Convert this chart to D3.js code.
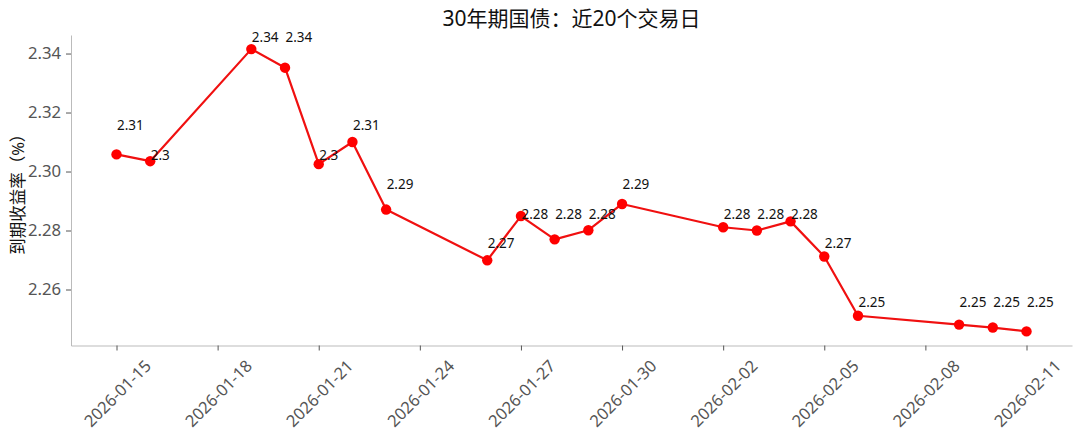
<!DOCTYPE html>
<html>
<head>
<meta charset="utf-8">
<script src="https://cdn.jsdelivr.net/npm/d3@7"></script>
<style>
  html, body { margin: 0; padding: 0; background: #fff; }
  svg { display: block; font-family: "Noto Sans", "Noto Sans CJK SC", sans-serif; }
</style>
</head>
<body>
<svg id="chart" width="1080" height="440"></svg>
<script>
const title = "30年期国债：近20个交易日";
const yLabel = "到期收益率（%）";
const dates = ["2026-01-15","2026-01-16","2026-01-19","2026-01-20","2026-01-21","2026-01-22","2026-01-23",
  "2026-01-26","2026-01-27","2026-01-28","2026-01-29","2026-01-30","2026-02-02","2026-02-03","2026-02-04",
  "2026-02-05","2026-02-06","2026-02-09","2026-02-10","2026-02-11"];
const yields = [2.3058, 2.3035, 2.3415, 2.3352, 2.3025, 2.3100, 2.2871,
  2.2699, 2.2849, 2.2770, 2.2801, 2.2890, 2.2811, 2.2800, 2.2831,
  2.2712, 2.2511, 2.2481, 2.2471, 2.2458];
const xTickLabels = ["2026-01-15","2026-01-18","2026-01-21","2026-01-24","2026-01-27",
  "2026-01-30","2026-02-02","2026-02-05","2026-02-08","2026-02-11"];
const yTickValues = [2.26, 2.28, 2.30, 2.32, 2.34];

(function () {
const FONT = "\"Noto Sans\", \"Noto Sans CJK SC\", sans-serif";
const parse = d3.utcParse("%Y-%m-%d");
const data = dates.map((d, i) => ({ date: parse(d), v: yields[i] }));

const svg = d3.select("#chart");
const mLeft = 71, mRight = 1072, mTop = 35, mBottom = 345.5;

const xExt = d3.extent(data, d => d.date);
const xPad = (xExt[1] - xExt[0]) * 0.05;
const x = d3.scaleUtc()
  .domain([new Date(+xExt[0] - xPad), new Date(+xExt[1] + xPad)])
  .range([mLeft, mRight]);

const yExt = d3.extent(yields);
const yPad = (yExt[1] - yExt[0]) * 0.05;
const y = d3.scaleLinear()
  .domain([yExt[0] - yPad, yExt[1] + yPad])
  .range([mBottom, mTop]);

// Title
svg.append("text")
  .attr("x", (mLeft + mRight) / 2).attr("y", 18)
  .attr("text-anchor", "middle").attr("dominant-baseline", "central")
  .attr("font-size", 21).attr("fill", "#111")
  .text(title);

// Y axis label
svg.append("text")
  .attr("transform", `translate(17, ${(mTop + mBottom) / 2}) rotate(-90)`)
  .attr("text-anchor", "middle").attr("dominant-baseline", "central")
  .attr("font-size", 16.5).attr("fill", "#111")
  .text(yLabel);

// Y axis
const yAxis = svg.append("g").attr("transform", `translate(${mLeft},0)`)
  .call(d3.axisLeft(y).tickValues(yTickValues).tickFormat(d3.format(".2f")).tickSize(5).tickSizeOuter(0).tickPadding(5));
yAxis.select(".domain").attr("stroke", "#bbb").attr("stroke-width", 1);
yAxis.selectAll(".tick line").attr("stroke", "#555");
yAxis.selectAll(".tick text").attr("font-size", 16.7).attr("fill", "#555")
  .attr("font-family", FONT);

// X axis
const xTicks = xTickLabels.map(parse);
const xAxis = svg.append("g").attr("transform", `translate(0,${mBottom})`)
  .call(d3.axisBottom(x).tickValues(xTicks).tickFormat(d3.utcFormat("%Y-%m-%d")).tickSize(5).tickSizeOuter(0));
xAxis.select(".domain").attr("stroke", "#bbb").attr("stroke-width", 1);
xAxis.selectAll(".tick line").attr("stroke", "#555");
xAxis.selectAll(".tick text")
  .attr("font-size", 16.5).attr("fill", "#555")
  .attr("font-family", FONT)
  .attr("text-anchor", "middle").attr("dominant-baseline", "central")
  .attr("x", 0).attr("y", 0).attr("dy", null)
  .attr("transform", "translate(0,47.5) rotate(-45)");

// Line
svg.append("path")
  .datum(data)
  .attr("fill", "none").attr("stroke", "#f01010").attr("stroke-width", 2.2)
  .attr("stroke-linejoin", "round")
  .attr("d", d3.line().x(d => x(d.date)).y(d => y(d.v)));

// Markers
svg.append("g").selectAll("circle").data(data).join("circle")
  .attr("cx", d => x(d.date)).attr("cy", d => y(d.v)).attr("r", 5.2)
  .attr("fill", "#ff0000");

// Value labels
const fmtLabel = v => String(+v.toFixed(2));
svg.append("g").selectAll("text").data(data).join("text")
  .attr("x", d => x(d.date) + 0.5)
  .attr("y", d => y(+d.v.toFixed(2)) - 17)
  .attr("dominant-baseline", "central")
  .attr("font-size", 13.5).attr("fill", "#111")
  .attr("font-family", FONT)
  .text(d => fmtLabel(d.v));
})();
</script>
</body>
</html>
